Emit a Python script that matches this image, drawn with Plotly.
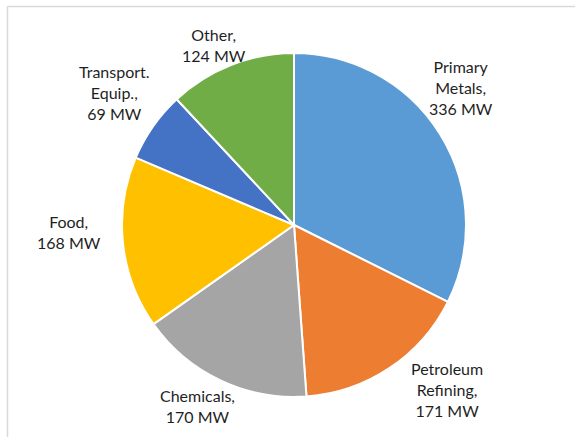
import plotly.graph_objects as go

categories = ["Primary Metals", "Petroleum Refining", "Chemicals", "Food", "Transport. Equip.", "Other"]
values_mw = [336, 171, 170, 168, 69, 124]
label_text = ["Primary<br>Metals,<br>336 MW", "Petroleum<br>Refining,<br>171 MW", "Chemicals,<br>170 MW",
              "Food,<br>168 MW", "Transport.<br>Equip.,<br>69 MW", "Other,<br>124 MW"]
colors = ["#5B9BD5", "#ED7D31", "#A5A5A5", "#FFC000", "#4472C4", "#70AD47"]

W, H = 575, 437
cx, cy, R = 294, 225, 172

# label anchor positions (pixels, layout only)
label_pos = [(461, 87), (447, 389), (197, 406), (69, 232), (114, 92), (214, 45)]

fig = go.Figure(go.Pie(
    labels=categories, values=values_mw, sort=False, direction="clockwise", rotation=0,
    marker=dict(colors=colors, line=dict(color="white", width=2)),
    textinfo="none", hoverinfo="label+value", showlegend=False,
    domain=dict(x=[(cx - R) / W, (cx + R) / W], y=[(H - cy - R) / H, (H - cy + R) / H]),
))

for txt, (px, py) in zip(label_text, label_pos):
    fig.add_annotation(x=px / W, y=1 - py / H, xref="paper", yref="paper", text=txt,
                       showarrow=False, align="center", xanchor="center", yanchor="middle",
                       font=dict(family="Lato", size=16, color="#1F1F1F"))

# outer chart border (partially visible)
fig.add_shape(type="line", xref="paper", yref="paper", x0=7.5 / W, x1=1.01, y0=1 - 6.5 / H, y1=1 - 6.5 / H,
              line=dict(color="#D9D9D9", width=1.5))
fig.add_shape(type="line", xref="paper", yref="paper", x0=7.5 / W, x1=7.5 / W, y0=-0.01, y1=1 - 6.5 / H,
              line=dict(color="#D9D9D9", width=1.5))

fig.update_layout(width=W, height=H, margin=dict(l=0, r=0, t=0, b=0),
                  paper_bgcolor="white", plot_bgcolor="white")
fig.write_html("out.html", post_script="document.body.style.margin='0';",
               config={"displayModeBar": False})
